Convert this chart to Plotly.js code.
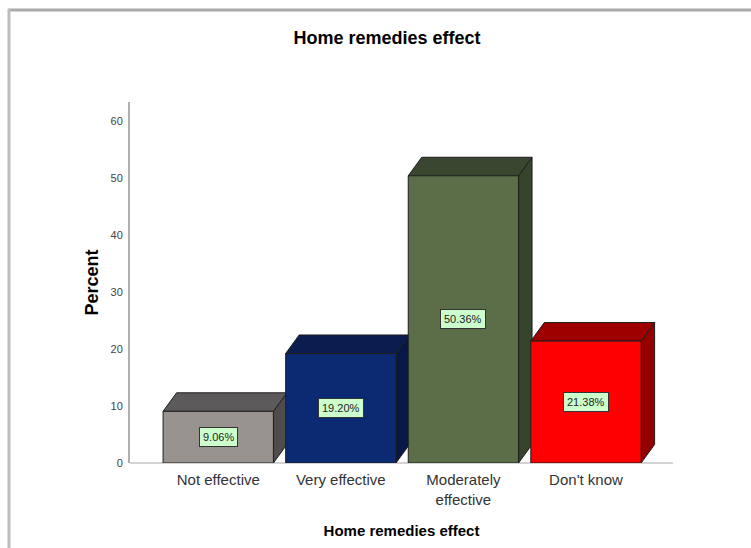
<!DOCTYPE html>
<html>
<head>
<meta charset="utf-8">
<script src="https://cdn.plot.ly/plotly-3.0.1.min.js"></script>
<style>
html,body{margin:0;padding:0;background:#fff;}
#chart{width:751px;height:548px;}
</style>
</head>
<body>
<div id="chart"></div>
<script>
// Data
const categories = ["Not effective", "Very effective", "Moderately effective", "Don't know"];
const tickLabels = ["Not effective", "Very effective", "Moderately<br>effective", "Don't know"];
const percents = [9.06, 19.20, 50.36, 21.38];
const valueLabels = ["9.06%", "19.20%", "50.36%", "21.38%"];

// Styles
const frontColors = ["#99938f", "#0c2a72", "#5b6e47", "#ff0000"];
const topColors   = ["#5c5a5a", "#0b1c4e", "#3a4630", "#9e0000"];
const sideColors  = ["#4e4c4c", "#081846", "#36442b", "#940000"];
const halfW = 0.45, depthX = 0.11, depthY = 3.25;
const edge = {color: "#1e1e1e", width: 1};

const traces = [];
percents.forEach((v, i) => {
  const l = i - halfW, r = i + halfW;
  // side face
  traces.push({type: "scatter", mode: "lines", fill: "toself", fillcolor: sideColors[i],
    x: [r, r, r + depthX, r + depthX, r], y: [0, v, v + depthY, depthY, 0],
    line: edge, hoverinfo: "skip", showlegend: false});
  // top face
  traces.push({type: "scatter", mode: "lines", fill: "toself", fillcolor: topColors[i],
    x: [l, l + depthX, r + depthX, r, l], y: [v, v + depthY, v + depthY, v, v],
    line: edge, hoverinfo: "skip", showlegend: false});
  // front face
  traces.push({type: "scatter", mode: "lines", fill: "toself", fillcolor: frontColors[i],
    x: [l, l, r, r, l], y: [0, v, v, 0, 0], name: categories[i],
    line: edge, hoverinfo: "skip", showlegend: false});
});

const annotations = percents.map((v, i) => ({
  x: i, y: v / 2, xref: "x", yref: "y", text: valueLabels[i], showarrow: false,
  bgcolor: "#ccffcc", bordercolor: "#333333", borderwidth: 1, borderpad: 3,
  font: {family: "Liberation Sans Narrow, Liberation Sans, Arial, sans-serif", size: 11, color: "#222"}
}));

const pxX = X => (X - 130) / 543;
const pxY = Y => (463 - Y) / 361;

const layout = {
  width: 751, height: 548,
  margin: {l: 130, r: 78, t: 102, b: 85},
  paper_bgcolor: "#ffffff", plot_bgcolor: "#ffffff",
  font: {family: "Liberation Sans, Arial, sans-serif", color: "#333"},
  title: {text: "<b>Home remedies effect</b>", x: 387 / 751, xanchor: "center",
          y: 1 - 38 / 548, yanchor: "middle", xref: "container", yref: "container",
          font: {size: 18, color: "#000", family: "Liberation Sans, Arial, sans-serif"}},
  xaxis: {
    range: [-0.72, 3.71], tickvals: [0, 1, 2, 3], ticktext: tickLabels,
    showgrid: false, zeroline: false, showline: false,
    ticks: "outside", ticklen: 3, tickcolor: "rgba(0,0,0,0)",
    tickfont: {size: 15, color: "#333"},
    title: {text: "<b>Home remedies effect</b>", standoff: 18,
            font: {size: 15, color: "#000"}},
    fixedrange: true
  },
  yaxis: {
    range: [0, 63.3], tickvals: [0, 10, 20, 30, 40, 50, 60],
    showgrid: false, zeroline: false, showline: true, linecolor: "#b0b0b0", linewidth: 2,
    ticks: "outside", ticklen: 3, tickcolor: "rgba(0,0,0,0)",
    tickfont: {size: 11, color: "#444"},
    title: {text: "<b>Percent</b>", standoff: 7, font: {size: 18, color: "#000"}},
    fixedrange: true
  },
  annotations: annotations,
  shapes: [
    {type: "line", xref: "paper", yref: "paper", x0: 0, x1: 1, y0: 0, y1: 0,
     line: {color: "#a8a8a8", width: 1}, layer: "below"},
    {type: "line", xref: "paper", yref: "paper", x0: pxX(8), x1: pxX(760), y0: pxY(10), y1: pxY(10),
     line: {color: "#aaaaaa", width: 3}},
    {type: "line", xref: "paper", yref: "paper", x0: pxX(9), x1: pxX(9), y0: pxY(9), y1: pxY(560),
     line: {color: "#bdbdbd", width: 3}}
  ],
  showlegend: false
};

Plotly.newPlot("chart", traces, layout, {staticPlot: true, displayModeBar: false});
</script>
</body>
</html>
